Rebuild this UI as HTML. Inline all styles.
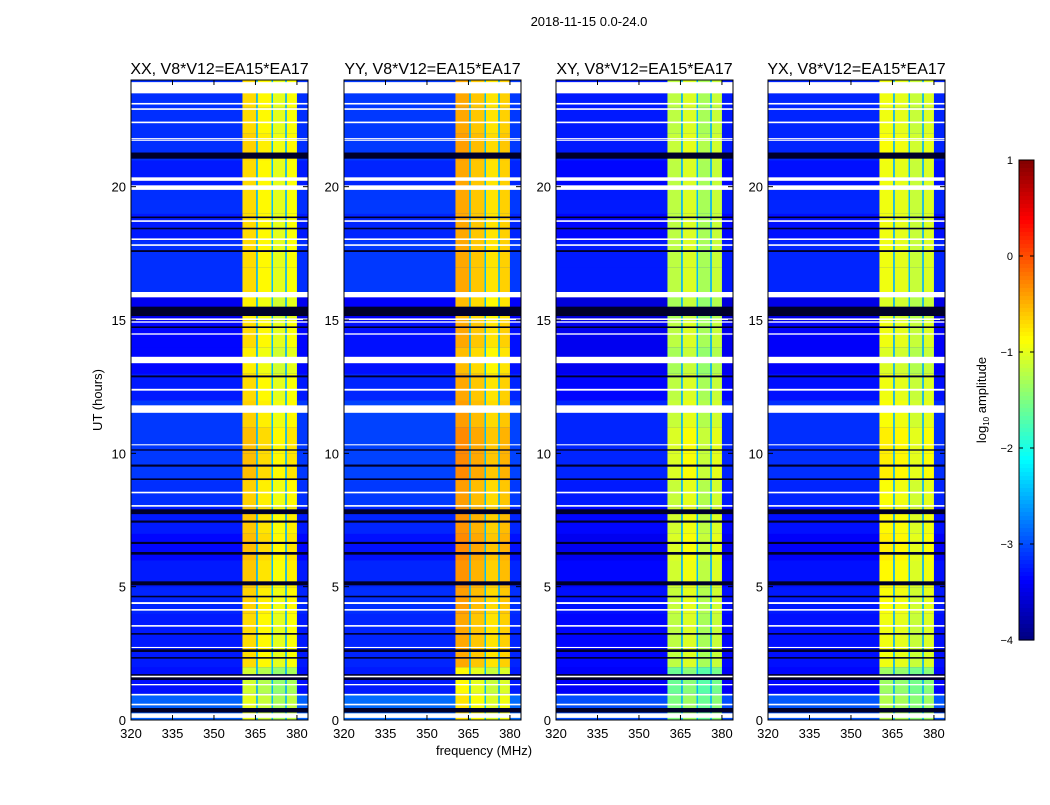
<!DOCTYPE html>
<html><head><meta charset="utf-8"><style>
body{margin:0;background:#fff;font-family:"Liberation Sans",sans-serif}
svg text{font-family:"Liberation Sans",sans-serif}
</style></head><body>
<svg id="fig" width="1050" height="800" xmlns="http://www.w3.org/2000/svg">
<rect width="1050" height="800" fill="#fff"/>
<text x="589" y="26" font-size="13" text-anchor="middle">2018-11-15 0.0-24.0</text>
<text transform="translate(102,400) rotate(-90)" font-size="13" text-anchor="middle">UT (hours)</text>
<text x="484" y="755" font-size="13" text-anchor="middle">frequency (MHz)</text>
<g id="panels"></g>
<g id="cbar"></g>
</svg>
<script>
const panelTitles=["XX, V8*V12=EA15*EA17","YY, V8*V12=EA15*EA17","XY, V8*V12=EA15*EA17","YX, V8*V12=EA15*EA17"];
const xTicks=[320,335,350,365,380];
const yTicks=[0,5,10,15,20];
const subBandStart=[360.3,365.8,371.3,376.3];
const subBandEnd=[365.3,370.8,375.8,380.0];
const gapStart=[365.3,370.8,375.8];
const gapEnd=[365.8,371.3,376.3];
const gapLevel=-2.4;
const bandLevelXX=[-0.7,-0.85,-1.0,-0.9];
const bandLevelYY=[-0.45,-0.6,-0.75,-0.65];
const bandLevelXY=[-1.2,-1.05,-1.3,-1.15];
const bandLevelYX=[-0.95,-1.0,-1.15,-1.05];
const bandHourAdj=[-0.3,-0.4,0.0,0.0,0.05,0.1,0.15,0.1,0.05,0.15,0.15,0.05,0.0,-0.1,0.0,-0.1,0.0,0.0,0.0,0.0,0.0,0.05,0.0,0.0];
const bgLevel=[-2.9,-3.3,-3.25,-3.25,-3.2,-3.25,-3.35,-3.25,-3.15,-3.1,-3.1,-3.1,-3.25,-3.35,-3.35,-3.45,-3.15,-3.15,-3.25,-3.15,-3.25,-3.15,-3.15,-3.15];
const panelBgAdj=[0.0,0.05,-0.1,-0.05];
const whiteStart=[23.5,23.08,22.88,22.38,21.72,21.78,20.22,19.88,18.68,18.0,17.78,15.85,15.0,14.9,14.45,13.38,12.35,11.52,10.3,8.5,8.0,4.35,4.1,3.5,2.7,1.6,1.3,0.92,0.55,0.08];
const whiteEnd=[23.92,23.14,22.94,22.44,21.76,21.82,20.35,20.05,18.74,18.06,17.84,16.05,15.06,14.95,14.5,13.62,12.42,11.8,10.34,8.56,8.06,4.42,4.16,3.56,2.74,1.66,1.35,0.98,0.61,0.25];
const blackStart=[21.05,18.82,18.4,17.55,15.15,14.7,12.85,10.1,9.5,9.0,7.72,7.4,6.6,6.2,5.05,4.6,3.2,2.55,2.3,1.5,0.28];
const blackEnd=[21.28,18.88,18.46,17.62,15.5,14.76,12.92,10.15,9.58,9.06,7.9,7.48,6.68,6.3,5.2,4.66,3.26,2.65,2.36,1.72,0.45];

const NS="http://www.w3.org/2000/svg";
function el(tag,attrs,parent){const e=document.createElementNS(NS,tag);for(const k in attrs)e.setAttribute(k,attrs[k]);parent.appendChild(e);return e;}
function jet(v){let t=(v+4)/5;t=Math.max(0,Math.min(1,t));let r,g,b;
 if(t<0.125){r=0;g=0;b=0.5+4*t;}else if(t<0.375){r=0;g=4*t-0.5;b=1;}else if(t<0.625){r=4*t-1.5;g=1;b=2.5-4*t;}else if(t<0.875){r=1;g=3.5-4*t;b=0;}else{r=4.5-4*t;g=0;b=0;}
 return `rgb(${Math.round(r*255)},${Math.round(g*255)},${Math.round(b*255)})`;}
const panelX=[131,344,556,768],PW=177,PT=80,PH=640,F0=320,F1=384,T1=24;
const bandLevels=[bandLevelXX,bandLevelYY,bandLevelXY,bandLevelYX];
const root=document.getElementById('panels');
panelX.forEach((px,p)=>{
 const xs=f=>px+(f-F0)/(F1-F0)*PW, ys=h=>PT+PH-(h/T1)*PH;
 const g=el('g',{},root);
 
 
 const t=el('text',{x:px+PW/2,y:74,'font-size':16,'text-anchor':'middle'},g);t.textContent=panelTitles[p];
 
 
 for(let h=0;h<24;h++){
  const c=el('rect',{x:px,y:ys(h+1),width:PW,height:ys(h)-ys(h+1)+0.5,fill:jet(bgLevel[h]+panelBgAdj[p])},g);
  
  
  for(let s=0;s<4;s++){
   const b=el('rect',{x:xs(subBandStart[s]),y:ys(h+1),width:xs(subBandEnd[s])-xs(subBandStart[s]),height:ys(h)-ys(h+1)+0.5,fill:jet(bandLevels[p][s]+bandHourAdj[h])},g);
   
   
  }
 }
 gapStart.forEach((s,i)=>{const r=el('rect',{x:xs(s),y:PT,width:xs(gapEnd[i])-xs(s),height:PH,fill:jet(gapLevel)},g);
  
  });
 blackStart.forEach((s,i)=>{const r=el('rect',{x:px,y:ys(blackEnd[i]),width:PW,height:Math.max(1,ys(s)-ys(blackEnd[i])),fill:'#00002a'},g);
  
  });
 whiteStart.forEach((s,i)=>{const r=el('rect',{x:px,y:ys(whiteEnd[i]),width:PW,height:Math.max(1,ys(s)-ys(whiteEnd[i])),fill:'#fff'},g);
  
  });
 const fr=el('rect',{x:px,y:PT,width:PW,height:PH,fill:'none',stroke:'#000','stroke-width':1},g);
 
 
 xTicks.forEach(v=>{const x=xs(v);
  el('line',{x1:x,x2:x,y1:PT+PH,y2:PT+PH-5,stroke:'#000'},g);el('line',{x1:x,x2:x,y1:PT,y2:PT+5,stroke:'#000'},g);
  const l=el('text',{x:x,y:PT+PH+18,'font-size':13,'text-anchor':'middle'},g);l.textContent=v;
  
  });
 yTicks.forEach(v=>{const y=ys(v);
  el('line',{x1:px,x2:px+5,y1:y,y2:y,stroke:'#000'},g);el('line',{x1:px+PW,x2:px+PW-5,y1:y,y2:y,stroke:'#000'},g);
  const l=el('text',{x:px-5,y:y+5,'font-size':13,'text-anchor':'end'},g);l.textContent=v;
  
  });
});
const cbTicks=[1,0,-1,-2,-3,-4];
const cb=document.getElementById('cbar');


const CX=1019,CW=15,CT=160,CH=480;
for(let i=0;i<120;i++){const v=1-5*(i+0.5)/120;el('rect',{x:CX,y:CT+i*CH/120,width:CW,height:CH/120+0.6,fill:jet(v)},cb);}
el('rect',{x:CX,y:CT,width:CW,height:CH,fill:'none',stroke:'#000'},cb);
cbTicks.forEach(v=>{const y=CT+(1-v)/5*CH;
 el('line',{x1:CX,x2:CX+4,y1:y,y2:y,stroke:'#000'},cb);el('line',{x1:CX+CW,x2:CX+CW-4,y1:y,y2:y,stroke:'#000'},cb);
 const l=el('text',{x:CX-6,y:y+4,'font-size':11,'text-anchor':'end'},cb);l.textContent=v<0?'\u2212'+(-v):v;
 
 });
const cl=el('text',{transform:'translate(986,400) rotate(-90)','font-size':13,'text-anchor':'middle'},cb);
cl.innerHTML='log<tspan font-size="8" dy="3">10</tspan><tspan dy="-3"> amplitude</tspan>';


</script>
</body></html>
